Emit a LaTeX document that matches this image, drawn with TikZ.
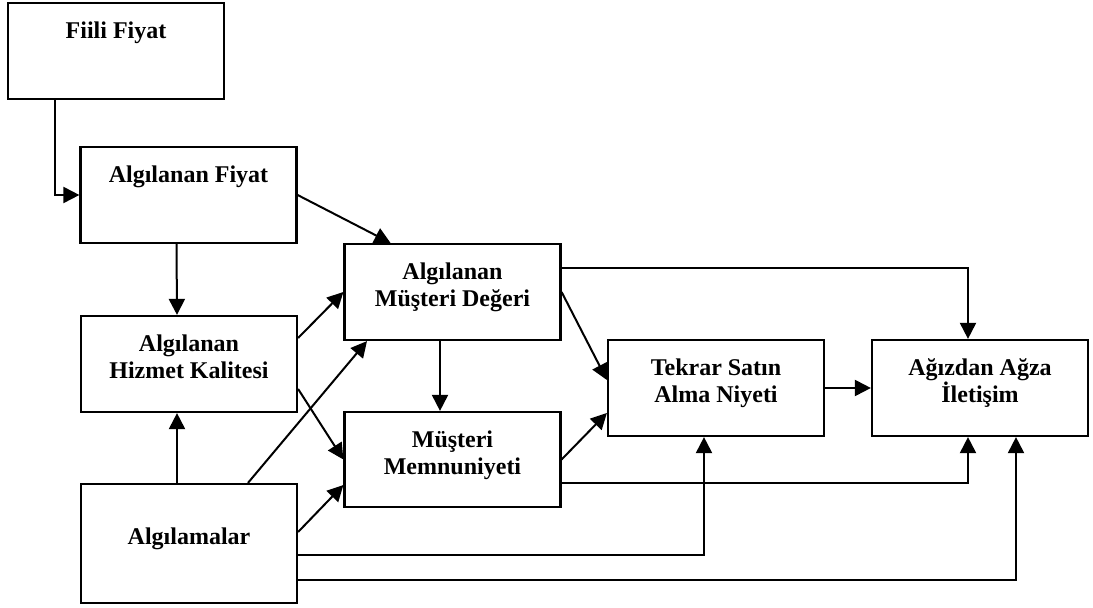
\documentclass[tikz,border=0pt]{standalone}
\usepackage{fontspec}
\setmainfont{Liberation Serif}
\usetikzlibrary{arrows.meta}
\newcommand{\kutuyazi}[3][18pt]{\parbox[c][#2][t]{108pt}{\centering\rule{0pt}{#1}#3}}
\begin{document}
\begin{tikzpicture}[x=0.5pt,y=-0.5pt,
    kutu/.style={draw, line width=1.1pt, inner sep=0pt, font=\fontsize{12}{13.5}\selectfont\bfseries},
    ok/.style={line width=1pt, -{Triangle[length=8pt,width=8pt]}}]
  \useasboundingbox (0,0) rectangle (1093,608);
  % kutular
  \node[kutu] (fiili) at (116,51) {\kutuyazi{48pt}{Fiili Fiyat}};
  \node[kutu] (fiyat) at (188.5,195) {\kutuyazi{48pt}{Algılanan Fiyat}};
  \node[kutu] (hizmet) at (189,364) {\kutuyazi{48pt}{Algılanan\\Hizmet Kalitesi}};
  \node[kutu] (algi) at (189,543.5) {\kutuyazi[30.5pt]{59.5pt}{Algılamalar}};
  \node[kutu] (deger) at (452.5,292) {\kutuyazi{48pt}{Algılanan\\Müşteri Değeri}};
  \node[kutu] (memnun) at (452.5,459.5) {\kutuyazi{47.5pt}{Müşteri\\Memnuniyeti}};
  \node[kutu] (tekrar) at (716,388) {\kutuyazi{48pt}{Tekrar Satın\\Alma Niyeti}};
  \node[kutu] (agiz) at (980,388) {\kutuyazi{48pt}{Ağızdan Ağza\\İletişim}};
  % oklar
  \draw[ok] ([xshift=24pt]fiili.south west) |- (fiyat.west);
  \draw[ok] ([xshift=-6pt]fiyat.south) -- ([xshift=-6pt]hizmet.north);
  \draw[ok] ([xshift=-6pt]algi.north) -- ([xshift=-6pt]hizmet.south);
  \draw[ok] (fiyat.east) -- ([xshift=-31pt]deger.north);
  \draw[ok] ([yshift=13pt]hizmet.east) -- (deger.west);
  \draw[ok] ([xshift=29.5pt]algi.north) -- ([xshift=-42.75pt]deger.south);
  \draw[ok] ([yshift=-12.5pt]hizmet.east) -- (memnun.west);
  \draw[ok] ([yshift=5.75pt]algi.east) -- ([yshift=-12.75pt]memnun.west);
  \draw[ok] ([xshift=-6.25pt]deger.south) -- ([xshift=-6.25pt]memnun.north);
  \draw[ok] (deger.east) -- ([yshift=4pt]tekrar.west);
  \draw[ok] (memnun.east) -- ([yshift=-12.5pt]tekrar.west);
  \draw[ok] (tekrar.east) -- (agiz.west);
  \draw[ok] ([yshift=12pt]deger.east) -| ([xshift=-6pt]agiz.north);
  \draw[ok] ([yshift=-11.75pt]memnun.east) -| ([xshift=-6pt]agiz.south);
  \draw[ok] ([yshift=-5.75pt]algi.east) -| ([xshift=-6pt]tekrar.south);
  \draw[ok] ([yshift=-18.25pt]algi.east) -| ([xshift=18pt]agiz.south);
\end{tikzpicture}
\end{document}
